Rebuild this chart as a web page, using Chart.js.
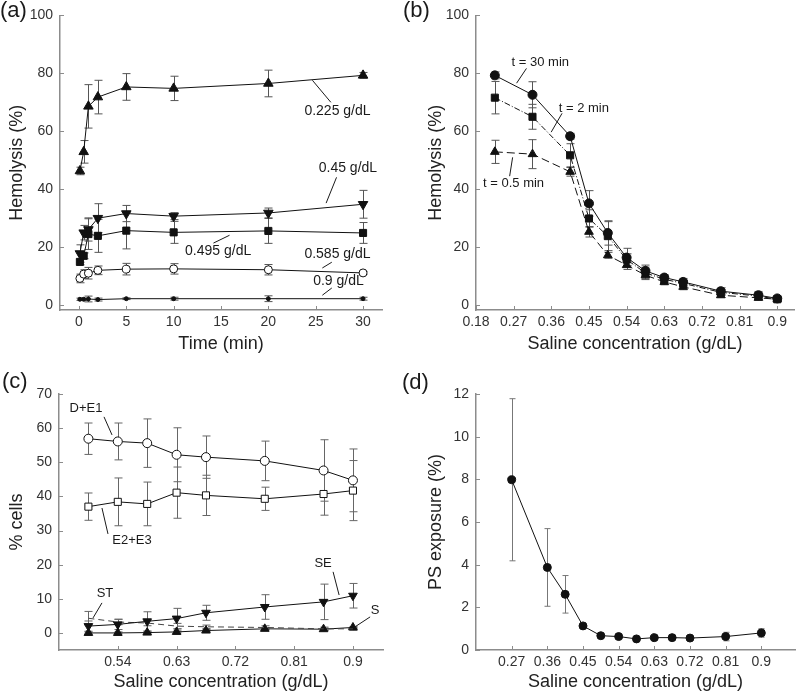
<!DOCTYPE html>
<html>
<head>
<meta charset="utf-8">
<script src="https://cdn.jsdelivr.net/npm/chart.js@4/dist/chart.umd.min.js"></script>
<style>
  body { margin: 0; background: #fff; }
  #wrap { position: relative; width: 800px; height: 694px; }
  canvas { position: absolute; }
</style>
</head>
<body>
<div id="wrap">
  <canvas id="chartA" width="400" height="355" style="left:0;top:0"></canvas>
  <canvas id="chartB" width="400" height="355" style="left:400px;top:0"></canvas>
  <canvas id="chartC" width="400" height="339" style="left:0;top:355px"></canvas>
  <canvas id="chartD" width="400" height="339" style="left:400px;top:355px"></canvas>
</div>
<script>
// ---- (a) hemolysis vs time, one series per saline concentration
const timeMin = [0.1, 0.5, 1, 2, 5, 10, 20, 30];
const hemo0225 = [46.3, 52.9, 68.6, 71.8, 75.3, 74.8, 76.5, 79.3];
const hemo0225Err = [1.3, 3.9, 7.5, 5.8, 4.6, 4.2, 4.6, 1.0];
const hemo045 = [17.8, 25.0, 26.1, 30.0, 31.6, 30.7, 31.8, 34.8];
const hemo045Err = [3.0, 2.5, 4.0, 5.0, 2.8, 1.2, 1.7, 4.8];
const hemo0495 = [14.9, 17.0, 24.5, 23.9, 25.7, 25.1, 25.6, 24.9];
const hemo0495Err = [1.0, 1.0, 5.3, 5.7, 6.3, 3.8, 4.3, 3.6];
const hemo0585 = [9.2, 10.7, 11.0, 12.0, 12.4, 12.5, 12.2, 11.1];
const hemo0585Err = [1.5, 1.5, 2.0, 1.5, 2.0, 1.8, 1.8, 0.5];
const hemo09 = [2.0, 2.0, 2.1, 1.9, 2.2, 2.2, 2.2, 2.2];
const hemo09Err = [0.4, 0.4, 1.0, 0.5, 0.3, 0.5, 1.0, 0.5];
const timeTicks = [0, 5, 10, 15, 20, 25, 30];
const hemoTicks = [0, 20, 40, 60, 80, 100];

// ---- (b) hemolysis vs saline concentration at three times
const salineB = [0.225, 0.315, 0.405, 0.45, 0.495, 0.54, 0.585, 0.63, 0.675, 0.765, 0.855, 0.9];
const hemo30 = [79.3, 72.6, 58.3, 35.1, 24.9, 16.4, 11.8, 9.5, 8.0, 4.8, 3.4, 2.3];
const hemo30Err = [1.2, 4.5, 1.0, 4.4, 4.2, 3.2, 2.0, 1.0, 1.2, 1.2, 1.3, 0.5];
const hemo2 = [71.6, 65.0, 51.7, 29.9, 23.8, 15.7, 11.1, 8.9, 7.5, 4.4, 3.1, 2.0];
const hemo2Err = [5.6, 4.3, 4.0, 3.0, 5.0, 2.0, 2.0, 1.0, 1.0, 1.0, 1.0, 0.5];
const hemo05 = [52.9, 52.1, 46.0, 25.3, 17.2, 13.8, 10.3, 8.0, 6.3, 3.4, 2.5, 2.0];
const hemo05Err = [4.0, 5.0, 1.5, 1.8, 1.0, 1.5, 1.5, 1.0, 1.0, 0.8, 0.8, 0.4];
const salineTicksB = [0.18, 0.27, 0.36, 0.45, 0.54, 0.63, 0.72, 0.81, 0.9];

// ---- (c) cell morphology classes
const salineC = [0.495, 0.54, 0.585, 0.63, 0.675, 0.765, 0.855, 0.9];
const cellsDE1 = [56.9, 56.1, 55.6, 52.2, 51.5, 50.4, 47.6, 44.7];
const cellsDE1Err = [4.6, 5.4, 7.1, 7.9, 6.2, 5.8, 9.0, 9.2];
const cellsE23 = [37.0, 38.4, 37.8, 41.1, 40.3, 39.3, 40.7, 41.7];
const cellsE23Err = [4.0, 7.0, 6.4, 7.5, 5.9, 3.4, 6.2, 8.8];
const cellsSE = [2.0, 2.5, 3.4, 4.2, 5.9, 7.6, 9.1, 10.9];
const cellsSEErr = [1.5, 1.5, 2.8, 3.0, 2.2, 3.6, 5.2, 3.6];
const cellsST = [4.3, 3.2, 2.9, 2.0, 1.8, 1.6, 1.2, 1.2];
const cellsSTErr = [2.0, 0.8, 0.8, 0.8, 0.5, 0.5, 0.5, 0.4];
const cellsS = [0.0, 0.0, 0.1, 0.3, 0.7, 1.2, 1.1, 1.6];
const cellsSErr = [0.3, 0.3, 0.3, 0.3, 0.3, 0.3, 0.3, 0.3];
const salineTicksC = [0.54, 0.63, 0.72, 0.81, 0.9];
const cellTicks = [0, 10, 20, 30, 40, 50, 60, 70];

// ---- (d) PS exposure
const salineD = [0.27, 0.36, 0.405, 0.45, 0.495, 0.54, 0.585, 0.63, 0.675, 0.72, 0.81, 0.9];
const psExposure = [7.98, 3.87, 2.61, 1.13, 0.67, 0.63, 0.52, 0.58, 0.58, 0.56, 0.63, 0.8];
const psErr = [3.8, 1.82, 0.88, 0.08, 0.06, 0.06, 0.05, 0.06, 0.06, 0.07, 0.2, 0.2];
const salineTicksD = [0.27, 0.36, 0.45, 0.54, 0.63, 0.72, 0.81, 0.9];
const psTicks = [0, 2, 4, 6, 8, 10, 12];

const FONT = '"Liberation Sans", Arial, sans-serif';
const AXIS_GREY = '#8c8c8c';

// vertical error bars with caps, drawn under the markers
const errorBars = {
  id: 'errorBars',
  beforeDatasetsDraw(chart) {
    const { ctx, scales: { x, y } } = chart;
    chart.data.datasets.forEach(ds => {
      if (!ds.err) return;
      ctx.save();
      ctx.strokeStyle = ds.errColor || '#555';
      ctx.lineWidth = 1;
      const cap = ds.cap || 4;
      ds.data.forEach((pt, j) => {
        const px = Math.round(x.getPixelForValue(pt.x)) + 0.5;
        const top = y.getPixelForValue(pt.y + ds.err[j]);
        const bot = y.getPixelForValue(pt.y - ds.err[j]);
        ctx.beginPath();
        ctx.moveTo(px, top); ctx.lineTo(px, bot);
        ctx.moveTo(px - cap, top); ctx.lineTo(px + cap, top);
        ctx.moveTo(px - cap, bot); ctx.lineTo(px + cap, bot);
        ctx.stroke();
      });
      ctx.restore();
    });
  }
};

// inward tick marks, leader-line notes and the panel letter
const frame = {
  id: 'frame',
  afterDraw(chart, args, opts) {
    const { ctx, chartArea: area, scales: { x, y } } = chart;
    ctx.save();
    ctx.strokeStyle = AXIS_GREY;
    ctx.lineWidth = 1;
    ctx.beginPath();
    x.ticks.forEach(t => {
      const px = Math.round(x.getPixelForValue(t.value)) + 0.5;
      ctx.moveTo(px, area.bottom); ctx.lineTo(px, area.bottom - 4);
    });
    y.ticks.forEach(t => {
      const py = Math.round(y.getPixelForValue(t.value)) + 0.5;
      ctx.moveTo(area.left, py); ctx.lineTo(area.left + 4, py);
    });
    ctx.stroke();

    ctx.fillStyle = '#1a1a1a';
    ctx.strokeStyle = '#1a1a1a';
    ctx.font = (opts.noteSize || 13) + 'px ' + FONT;
    ctx.textAlign = 'center';
    ctx.textBaseline = 'middle';
    (opts.notes || []).forEach(n => {
      ctx.fillText(n.text, x.getPixelForValue(n.at[0]), y.getPixelForValue(n.at[1]));
      ctx.beginPath();
      ctx.moveTo(x.getPixelForValue(n.from[0]), y.getPixelForValue(n.from[1]));
      ctx.lineTo(x.getPixelForValue(n.to[0]), y.getPixelForValue(n.to[1]));
      ctx.stroke();
    });

    ctx.font = '22px ' + FONT;
    ctx.textAlign = 'left';
    ctx.fillText(opts.tag, opts.tagX, opts.tagY);
    ctx.restore();
  }
};

function fmt(v) { return String(+v.toFixed(3)); }

function axis(o) {
  return {
    type: 'linear',
    min: o.min, max: o.max,
    afterFit: s => { if (o.width) s.width = o.width; if (o.height) s.height = o.height; },
    afterBuildTicks: s => { s.ticks = o.ticks.map(v => ({ value: v })); },
    grid: { display: false, drawTicks: false },
    border: { display: true, color: AXIS_GREY, width: 1.5 },
    ticks: {
      padding: o.pad, color: '#333', autoSkip: false, maxRotation: 0,
      font: { size: 14, family: FONT }, callback: v => fmt(v)
    },
    title: {
      display: true, text: o.title, color: '#222',
      font: { size: 18, family: FONT, lineHeight: 1 },
      padding: o.titlePad
    }
  };
}

function series(xs, ys, err, style) {
  return Object.assign({
    data: xs.map((x, i) => ({ x, y: ys[i] })),
    err,
    borderColor: '#111', borderWidth: 1, backgroundColor: '#111',
    pointBorderColor: '#111', pointBackgroundColor: '#111',
    pointRadius: 4, pointBorderWidth: 1, pointHoverRadius: 4,
    tension: 0, fill: false
  }, style);
}

function makeChart(id, datasets, scales, padding, frameOpts) {
  new Chart(document.getElementById(id), {
    type: 'line',
    data: { datasets },
    options: {
      responsive: false, animation: false,
      layout: { padding },
      scales,
      plugins: { legend: { display: false }, tooltip: { enabled: false }, frame: frameOpts }
    },
    plugins: [errorBars, frame]
  });
}

// (a)
makeChart('chartA', [
  series(timeMin, hemo0225, hemo0225Err, { pointStyle: 'triangle', pointRadius: 5.5 }),
  series(timeMin, hemo045, hemo045Err, { pointStyle: 'triangle', pointRotation: 180, pointRadius: 5.5 }),
  series(timeMin, hemo0495, hemo0495Err, { pointStyle: 'rect', pointRadius: 5 }),
  series(timeMin, hemo0585, hemo0585Err, { pointStyle: 'circle', pointRadius: 4, pointBackgroundColor: '#fff' }),
  series(timeMin, hemo09, hemo09Err, { pointStyle: 'circle', pointRadius: 2 })
], {
  x: axis({ min: -2, max: 32, ticks: timeTicks, height: 45, pad: 4, title: 'Time (min)', titlePad: { top: 0, bottom: 2 } }),
  y: axis({ min: -1.7, max: 100, ticks: hemoTicks, width: 60, pad: 7, title: 'Hemolysis (%)', titlePad: { top: 8, bottom: 0 } })
}, { top: 15, right: 18, left: 0, bottom: 0 }, {
  tag: '(a)', tagX: 0, tagY: 11, noteSize: 14,
  notes: [
    { text: '0.225 g/dL', at: [27.3, 66.9], from: [24.65, 77.6], to: [26.6, 70.0] },
    { text: '0.45 g/dL', at: [28.4, 47.2], from: [27.2, 44.1], to: [26.1, 35.2] },
    { text: '0.495 g/dL', at: [14.7, 18.6], from: [14.2, 21.4], to: [15.9, 24.1] },
    { text: '0.585 g/dL', at: [27.3, 17.6], from: [26.7, 14.8], to: [25.7, 12.8] },
    { text: '0.9 g/dL', at: [27.4, 8.3], from: [26.7, 5.9], to: [25.7, 3.4] }
  ]
});

// (b)
makeChart('chartB', [
  series(salineB, hemo30, hemo30Err, { pointStyle: 'circle', pointRadius: 4.5 }),
  series(salineB, hemo2, hemo2Err, { pointStyle: 'rect', pointRadius: 5, borderDash: [6, 2, 1, 2] }),
  series(salineB, hemo05, hemo05Err, { pointStyle: 'triangle', pointRadius: 5, borderDash: [8, 4] })
], {
  x: axis({ min: 0.18, max: 0.94, ticks: salineTicksB, height: 45, pad: 4, title: 'Saline concentration (g/dL)', titlePad: { top: 0, bottom: 2 } }),
  y: axis({ min: -1.7, max: 100, ticks: hemoTicks, width: 76, pad: 7, title: 'Hemolysis (%)', titlePad: { top: 27, bottom: 0 } })
}, { top: 15, right: 2, left: 0, bottom: 0 }, {
  tag: '(b)', tagX: 3, tagY: 11,
  notes: [
    { text: 't = 30 min', at: [0.3337, 83.8], from: [0.3006, 81.7], to: [0.277, 76.6] },
    { text: 't = 2 min', at: [0.4377, 67.9], from: [0.3857, 66.2], to: [0.3597, 59.7] },
    { text: 't = 0.5 min', at: [0.2698, 42.1], from: [0.2604, 44.5], to: [0.2675, 51.0] }
  ]
});

// (c)
makeChart('chartC', [
  series(salineC, cellsDE1, cellsDE1Err, { pointStyle: 'circle', pointRadius: 4.5, pointBackgroundColor: '#fff', errColor: '#666' }),
  series(salineC, cellsE23, cellsE23Err, { pointStyle: 'rect', pointRadius: 5, pointBackgroundColor: '#fff', errColor: '#666' }),
  series(salineC, cellsSE, cellsSEErr, { pointStyle: 'triangle', pointRotation: 180, pointRadius: 5, errColor: '#666' }),
  series(salineC, cellsST, cellsSTErr, { pointRadius: 0, borderColor: '#444', borderDash: [6, 4], errColor: '#666' }),
  series(salineC, cellsS, cellsSErr, { pointStyle: 'triangle', pointRadius: 5, errColor: '#666' })
], {
  x: axis({ min: 0.45, max: 0.946, ticks: salineTicksC, height: 44, pad: 4, title: 'Saline concentration (g/dL)', titlePad: { top: 0, bottom: 3 } }),
  y: axis({ min: -5, max: 70, ticks: cellTicks, width: 59, pad: 7, title: '% cells', titlePad: { top: 8, bottom: 0 } })
}, { top: 39, right: 17, left: 0, bottom: 0 }, {
  tag: '(c)', tagX: 2, tagY: 27,
  notes: [
    { text: 'D+E1', at: [0.4913, 65.9], from: [0.5189, 63.3], to: [0.5312, 58.0] },
    { text: 'E2+E3', at: [0.5618, 27.2], from: [0.525, 29.0], to: [0.5158, 36.6] },
    { text: 'SE', at: [0.8543, 20.5], from: [0.8696, 17.9], to: [0.8788, 11.1] },
    { text: 'ST', at: [0.5204, 11.7], from: [0.5158, 8.8], to: [0.5021, 4.4] },
    { text: 'S', at: [0.934, 6.7], from: [0.9263, 4.7], to: [0.9033, 1.8] }
  ]
});

// (d)
makeChart('chartD', [
  series(salineD, psExposure, psErr, { pointStyle: 'circle', pointRadius: 4, errColor: '#777', cap: 3 })
], {
  x: axis({ min: 0.18, max: 0.985, ticks: salineTicksD, height: 44, pad: 4, title: 'Saline concentration (g/dL)', titlePad: { top: 0, bottom: 3 } }),
  y: axis({ min: 0, max: 12, ticks: psTicks, width: 76, pad: 7, title: 'PS exposure (%)', titlePad: { top: 27, bottom: 0 } })
}, { top: 39, right: 2, left: 0, bottom: 0 }, {
  tag: '(d)', tagX: 2, tagY: 28,
  notes: []
});
</script>
</body>
</html>
